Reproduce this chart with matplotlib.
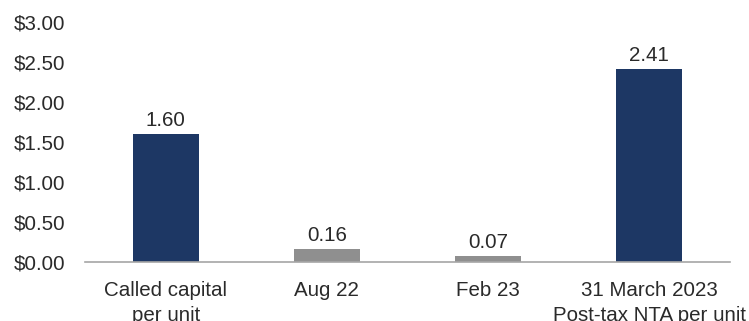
import matplotlib.pyplot as plt

categories = ["Called capital\nper unit", "Aug 22", "Feb 23", "31 March 2023\nPost-tax NTA per unit"]
values = [1.60, 0.16, 0.07, 2.41]
colors = ["#1d3764", "#8f8f8f", "#8f8f8f", "#1d3764"]
yticks = [0.0, 0.5, 1.0, 1.5, 2.0, 2.5, 3.0]

plt.rcParams['font.family'] = ['Liberation Sans', 'DejaVu Sans']
txt = "#2a2a2a"
fs = 14.8

fig = plt.figure(figsize=(7.49, 3.21), dpi=100)
ax = fig.add_axes([85 / 749, (321 - 262) / 321, (730 - 85) / 749, 240 / 321])

x = range(len(values))
bars = ax.bar(x, values, width=0.41, color=colors, zorder=2)
for b, v in zip(bars, values):
    ax.annotate(f"{v:.2f}", (b.get_x() + b.get_width() / 2, v), xytext=(0, 3),
                textcoords="offset points", ha="center", va="bottom",
                fontsize=fs, color=txt)

ax.set_xlim(-0.5, 3.5)
ax.set_ylim(0, 3.0)
ax.set_yticks(yticks)
ax.set_yticklabels([f"${t:.2f}" for t in yticks])
ax.set_xticks(list(x))
ax.set_xticklabels(categories, linespacing=1.4)
ax.tick_params(axis="y", length=0, pad=14, labelsize=fs, labelcolor=txt)
ax.tick_params(axis="x", length=0, pad=14, labelsize=fs, labelcolor=txt)

for s in ["top", "right", "left"]:
    ax.spines[s].set_visible(False)
ax.spines["bottom"].set_color("#a6a6a6")
ax.spines["bottom"].set_linewidth(1.2)
ax.spines["bottom"].set_zorder(3)

fig.savefig("out.png", dpi=100)
